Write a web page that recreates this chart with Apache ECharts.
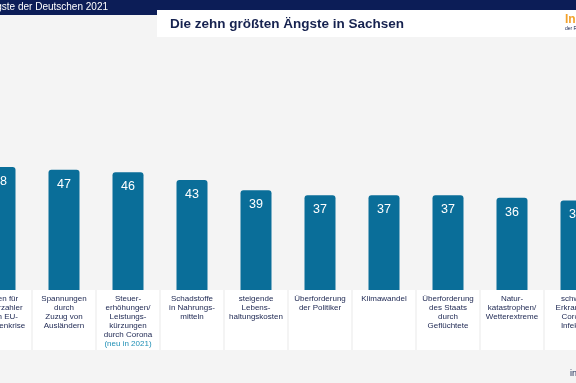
<!DOCTYPE html>
<html><head><meta charset="utf-8">
<script src="https://cdn.jsdelivr.net/npm/echarts@6/dist/echarts.min.js"></script>
<style>html,body{margin:0;padding:0;background:#f4f4f4}#c{width:576px;height:383px}</style>
</head><body><div id="c"></div>
<script>
const categories = [
  'Kosten für\nSteuerzahler\ndurch EU-\nSchuldenkrise',
  'Spannungen\ndurch\nZuzug von\nAusländern',
  'Steuer-\nerhöhungen/\nLeistungs-\nkürzungen\ndurch Corona\n{n|(neu in 2021)}',
  'Schadstoffe\nin Nahrungs-\nmitteln',
  'steigende\nLebens-\nhaltungskosten',
  'Überforderung\nder Politiker',
  'Klimawandel',
  'Überforderung\ndes Staats\ndurch\nGeflüchtete',
  'Natur-\nkatastrophen/\nWetterextreme',
  'schwere\nErkrankung\nCorona-\nInfektion'
];
const values = [48, 47, 46, 43, 39, 37, 37, 37, 36, 35];
const bannerText = 'Die größten Ängste der Deutschen 2021';
const titleText = 'Die zehn größten Ängste in Sachsen';

const chart = echarts.init(document.getElementById('c'));
chart.setOption({
  backgroundColor: '#f4f4f4',
  animation: false,
  grid: { left: -32, width: 640, top: 136.4, height: 153.6, containLabel: false, outerBoundsMode: 'none' },
  xAxis: {
    type: 'category', data: categories,
    axisLine: { show: false }, axisTick: { show: false },
    axisLabel: {
      interval: 0, margin: 0, hideOverlap: false,
      width: 62, height: 56, padding: [4, 0, 0, 0],
      backgroundColor: '#ffffff',
      color: '#1b2550', fontFamily: 'Liberation Sans, Arial, sans-serif',
      fontSize: 8, lineHeight: 9, align: 'center', verticalAlign: 'top',
      overflow: 'none',
      rich: { n: { color: '#1f8fb5', fontSize: 8, lineHeight: 9 } }
    }
  },
  yAxis: { type: 'value', min: 0, max: 60, show: false, splitLine: { show: false } },
  series: [{
    type: 'bar', data: values, barWidth: 31,
    itemStyle: { color: '#0a6e99', borderRadius: [3, 3, 0, 0] },
    label: {
      show: true, position: 'insideTop', distance: 8,
      color: '#ffffff', fontSize: 12.5, fontFamily: 'Liberation Sans, Arial, sans-serif'
    }
  }],
  graphic: [
    { type: 'rect', shape: { x: 0, y: 0, width: 576, height: 15 }, style: { fill: '#0c1d57' }, z: 10 },
    { type: 'rect', shape: { x: 157, y: 10, width: 419, height: 27 }, style: { fill: '#ffffff' }, z: 11 },
    { type: 'text', x: 108, y: 7, style: { text: bannerText, fill: '#ffffff', fontSize: 10, fontFamily: 'Liberation Sans, Arial, sans-serif', align: 'right', verticalAlign: 'middle' }, z: 12 },
    { type: 'text', x: 170, y: 24, style: { text: titleText, fill: '#16224f', fontSize: 13.5, fontWeight: 'bold', fontFamily: 'Liberation Sans, Arial, sans-serif', verticalAlign: 'middle' }, z: 12 },
    { type: 'text', x: 565, y: 20, style: { text: 'In', fill: '#f2a12b', fontSize: 12, fontWeight: 'bold', fontFamily: 'Liberation Sans, Arial, sans-serif', verticalAlign: 'middle' }, z: 12 },
    { type: 'text', x: 565, y: 29, style: { text: 'der R', fill: '#16224f', fontSize: 5, fontFamily: 'Liberation Sans, Arial, sans-serif', verticalAlign: 'middle' }, z: 12 },
    { type: 'text', x: 570, y: 374, style: { text: 'in', fill: '#16224f', fontSize: 9, fontFamily: 'Liberation Sans, Arial, sans-serif', verticalAlign: 'middle' }, z: 12 }
  ]
});
</script></body></html>
